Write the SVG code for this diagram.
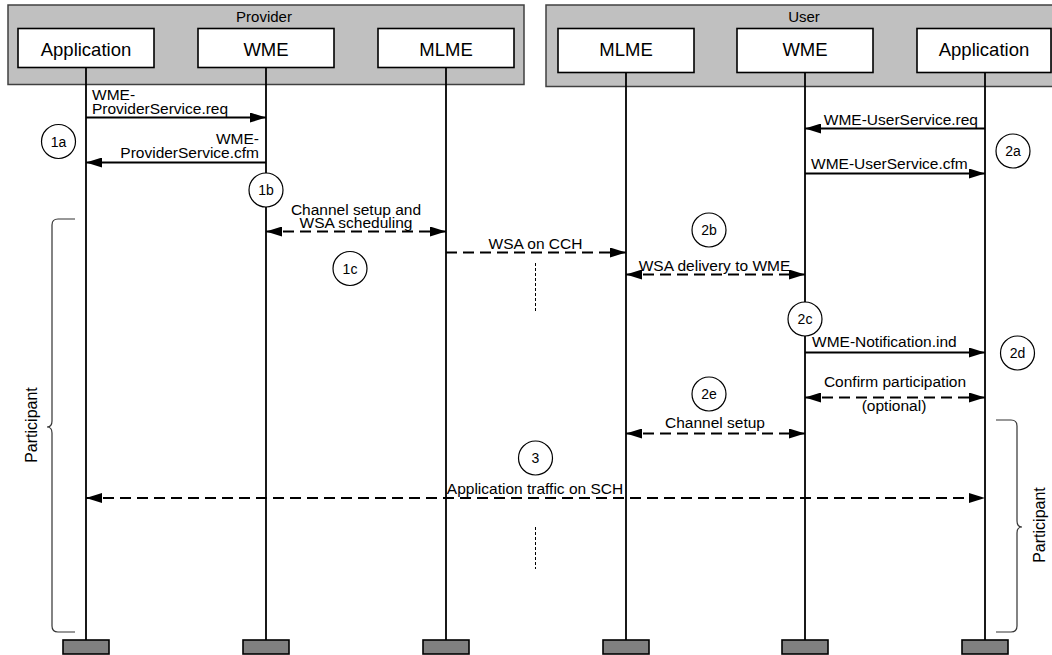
<svg xmlns="http://www.w3.org/2000/svg" width="1052" height="655" viewBox="0 0 1052 655">
<style>
text{font-family:"Liberation Sans",Arial,sans-serif;fill:#000}
.grp{fill:#c0c0c0;stroke:#404040;stroke-width:1.5}
.box{fill:#fff;stroke:#000;stroke-width:1.6}
.hdr{font-size:15px;text-anchor:middle}
.bl{font-size:18.5px;text-anchor:middle}
.life{stroke:#000;stroke-width:1.8;fill:none}
.foot{fill:#808080;stroke:#000;stroke-width:1.6}
.msg{stroke:#000;stroke-width:1.8;fill:none}
.dash{stroke:#000;stroke-width:2;fill:none;stroke-dasharray:11 6}
.dot{stroke:#000;stroke-width:1;fill:none;stroke-dasharray:3 2}
.lbl{font-size:15.5px}
.mid{text-anchor:middle}
.end{text-anchor:end}
.circ{fill:#fff;stroke:#000;stroke-width:1.2}
.cl{font-size:14px;text-anchor:middle}
.brace{fill:none;stroke:#333;stroke-width:1.2}
.part{font-size:16px;text-anchor:middle}
</style>
<defs>
<marker id="ah" viewBox="0 0 16 10" refX="16" refY="5" markerWidth="16" markerHeight="10" orient="auto-start-reverse" markerUnits="userSpaceOnUse">
<path d="M0,0 L16,5 L0,10 z" fill="#000" stroke="none"/>
</marker>
</defs>

<g id="provider">
<rect class="grp" x="8" y="5" width="516" height="79.5"/>
<text class="hdr" x="264" y="22">Provider</text>
</g>
<g id="user">
<rect class="grp" x="546" y="5" width="510" height="81.5"/>
<text class="hdr" x="804" y="22">User</text>
</g>

<g id="lifelines">
<line class="life" x1="86" y1="67.5" x2="86" y2="640"/>
<line class="life" x1="266" y1="67.5" x2="266" y2="640"/>
<line class="life" x1="446" y1="67.5" x2="446" y2="640"/>
<line class="life" x1="626" y1="72.5" x2="626" y2="640"/>
<line class="life" x1="805" y1="72.5" x2="805" y2="640"/>
<line class="life" x1="985" y1="72.5" x2="985" y2="640"/>
</g>

<g id="p-app"><rect class="box" x="18" y="28.5" width="136" height="39"/><text class="bl" x="86" y="56">Application</text></g>
<g id="p-wme"><rect class="box" x="198" y="28.5" width="136" height="39"/><text class="bl" x="266" y="56">WME</text></g>
<g id="p-mlme"><rect class="box" x="378" y="28.5" width="136" height="39"/><text class="bl" x="446" y="56">MLME</text></g>
<g id="u-mlme"><rect class="box" x="558" y="28.5" width="136" height="44"/><text class="bl" x="626" y="56">MLME</text></g>
<g id="u-wme"><rect class="box" x="737" y="28.5" width="136" height="44"/><text class="bl" x="805" y="56">WME</text></g>
<g id="u-app"><rect class="box" x="917" y="28.5" width="134" height="44"/><text class="bl" x="984" y="56">Application</text></g>

<g id="footers">
<rect class="foot" x="63" y="640" width="46" height="14"/>
<rect class="foot" x="243" y="640" width="46" height="14"/>
<rect class="foot" x="423" y="640" width="46" height="14"/>
<rect class="foot" x="603" y="640" width="46" height="14"/>
<rect class="foot" x="782" y="640" width="46" height="14"/>
<rect class="foot" x="962" y="640" width="46" height="14"/>
</g>

<g id="connectors">
<line class="msg" x1="86" y1="117.5" x2="266" y2="117.5" marker-end="url(#ah)"/>
<line class="msg" x1="266" y1="162.5" x2="86" y2="162.5" marker-end="url(#ah)"/>
<line class="dash" x1="266" y1="231.5" x2="446" y2="231.5" marker-start="url(#ah)" marker-end="url(#ah)"/>
<line class="dash" x1="446" y1="252.5" x2="626" y2="252.5" marker-end="url(#ah)"/>
<line class="dash" x1="626" y1="274.5" x2="805" y2="274.5" marker-start="url(#ah)" marker-end="url(#ah)"/>
<line class="msg" x1="985" y1="128.5" x2="805" y2="128.5" marker-end="url(#ah)"/>
<line class="msg" x1="805" y1="173.5" x2="985" y2="173.5" marker-end="url(#ah)"/>
<line class="msg" x1="805" y1="352.5" x2="985" y2="352.5" marker-end="url(#ah)"/>
<line class="dash" x1="805" y1="397.5" x2="985" y2="397.5" marker-start="url(#ah)" marker-end="url(#ah)"/>
<line class="dash" x1="626" y1="433.5" x2="805" y2="433.5" marker-start="url(#ah)" marker-end="url(#ah)"/>
<line class="dash" x1="86" y1="498" x2="985" y2="498" marker-start="url(#ah)" marker-end="url(#ah)"/>
<line class="dot" x1="535.5" y1="263" x2="535.5" y2="311"/>
<line class="dot" x1="535.5" y1="527" x2="535.5" y2="569"/>
</g>

<g id="labels">
<text class="lbl" x="92" y="99.5">WME-</text>
<text class="lbl" x="92" y="114">ProviderService.req</text>
<text class="lbl end" x="259" y="144">WME-</text>
<text class="lbl end" x="259" y="157.5">ProviderService.cfm</text>
<text class="lbl mid" x="356" y="214.5">Channel setup and</text>
<text class="lbl mid" x="356" y="228">WSA scheduling</text>
<text class="lbl mid" x="535.5" y="248.5">WSA on CCH</text>
<text class="lbl mid" x="714.5" y="271">WSA delivery to WME</text>
<text class="lbl end" x="978" y="125">WME-UserService.req</text>
<text class="lbl" x="811" y="169">WME-UserService.cfm</text>
<text class="lbl" x="812" y="347">WME-Notification.ind</text>
<text class="lbl mid" x="895" y="387">Confirm participation</text>
<text class="lbl mid" x="894" y="411">(optional)</text>
<text class="lbl mid" x="715" y="428">Channel setup</text>
<text class="lbl mid" x="535" y="494">Application traffic on SCH</text>
</g>

<g id="steps">
<circle class="circ" cx="58.5" cy="141.5" r="17"/><text class="cl" x="58.5" y="146.5">1a</text>
<circle class="circ" cx="266" cy="190" r="17"/><text class="cl" x="266" y="195">1b</text>
<circle class="circ" cx="350" cy="268.5" r="17"/><text class="cl" x="350" y="273.5">1c</text>
<circle class="circ" cx="1013" cy="151" r="17"/><text class="cl" x="1013" y="156">2a</text>
<circle class="circ" cx="709" cy="230" r="17"/><text class="cl" x="709" y="235">2b</text>
<circle class="circ" cx="805" cy="319" r="17"/><text class="cl" x="805" y="324">2c</text>
<circle class="circ" cx="1017.5" cy="353" r="17"/><text class="cl" x="1017.5" y="358">2d</text>
<circle class="circ" cx="709" cy="394" r="17"/><text class="cl" x="709" y="399">2e</text>
<circle class="circ" cx="535.5" cy="458" r="17"/><text class="cl" x="535.5" y="463">3</text>
</g>

<g id="participant-left">
<path class="brace" d="M75,219 H58 Q52,219 52,225 V421 Q52,427 47,427 Q52,427 52,433 V626 Q52,632 58,632 H75"/>
<text class="part" transform="translate(37,425) rotate(-90)">Participant</text>
</g>
<g id="participant-right">
<path class="brace" d="M996,420 H1011 Q1017,420 1017,426 V521 Q1017,527 1022,527 Q1017,527 1017,533 V626 Q1017,632 1011,632 H996"/>
<text class="part" transform="translate(1045,525) rotate(-90)">Participant</text>
</g>
</svg>
